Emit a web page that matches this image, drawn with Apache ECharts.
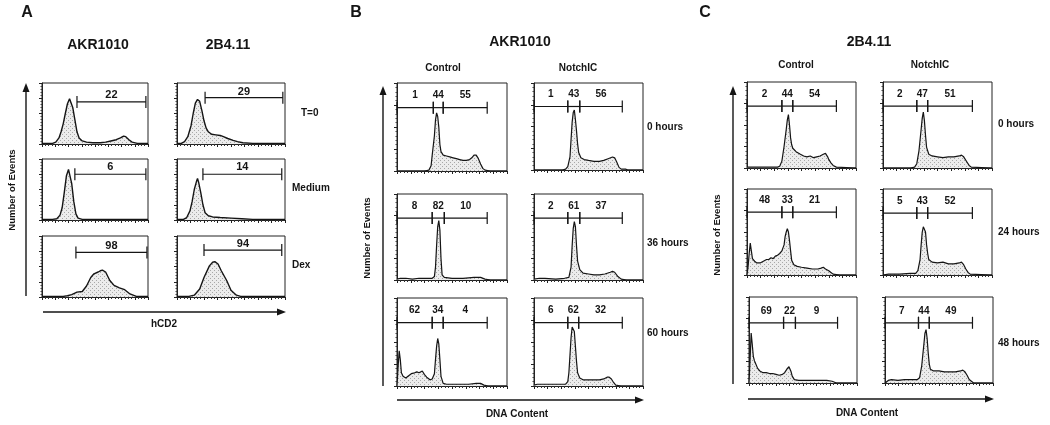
<!DOCTYPE html>
<html>
<head>
<meta charset="utf-8">
<script src="https://cdn.jsdelivr.net/npm/echarts@6/dist/echarts.min.js"></script>
<style>
html, body { margin: 0; padding: 0; background: #fff; }
#chart { width: 1050px; height: 425px; }
</style>
</head>
<body>
<div id="chart"></div>
<script>
// histograms: [channel (% of axis), events (% of max)]
// A - hCD2
const akrT0 = [[0,1],[5,1],[10,1],[13,3],[16,10],[18,20],[20,33],[22,50],[24,66],[26,74],[27,72],[29,60],[31,40],[33,20],[35,10],[38,5],[42,3],[48,2],[55,2],[60,3],[65,5],[70,7],[74,10],[77,13],[79,12],[82,7],[85,3],[90,1],[100,1]];
const b4T0 = [[0,1],[4,1],[7,4],[10,12],[13,30],[15,50],[17,67],[19,73],[21,70],[23,55],[25,38],[27,26],[29,20],[32,16],[36,15],[40,14],[43,12],[47,9],[52,6],[56,4],[61,2],[70,1],[100,1]];
const akrMedium = [[0,1],[10,1],[14,2],[17,8],[19,20],[21,45],[23,72],[25,83],[26,80],[28,60],[30,30],[32,10],[34,3],[38,1],[100,1]];
const b4Medium = [[0,1],[6,1],[9,4],[12,15],[14,30],[16,50],[18,63],[19,68],[20,62],[22,45],[24,25],[26,12],[29,7],[33,5],[40,4],[50,3],[60,2],[70,1],[100,1]];
const akrDex = [[0,1],[20,1],[24,2],[28,4],[33,8],[38,9],[42,18],[46,32],[49,38],[53,41],[55,43],[57,44],[60,41],[64,27],[68,19],[73,15],[78,12],[83,5],[89,1],[100,1]];
const b4Dex = [[0,1],[11,1],[16,3],[21,13],[25,32],[30,51],[33,57],[35,58],[38,54],[41,43],[46,27],[50,11],[55,3],[59,1],[100,1]];
// B - AKR1010 DNA content
const bCtl0 = [[0,0],[25,0],[29,1],[31,6],[32,18],[34,40],[35,58],[36,66],[37,62],[38,50],[39,30],[40,22],[42,18],[45,17],[48,16],[51,15],[54,14],[57,13],[60,12],[63,12],[66,13],[68,15],[70,18],[71,19],[72,18],[74,14],[76,8],[78,3],[80,1],[85,0],[100,0]];
const bNotch0 = [[0,0],[26,0],[29,1],[31,4],[33,15],[34,35],[35,55],[36,66],[37,69],[38,58],[39,45],[40,30],[41,20],[43,14],[46,12],[50,11],[55,10],[60,10],[64,11],[68,13],[72,15],[74,14],[76,9],[78,3],[80,1],[84,1],[86,0],[100,0]];
const bCtl36 = [[0,1],[3,2],[8,2],[14,1],[20,2],[27,2],[32,2],[34,4],[35,15],[36,40],[37,62],[38,69],[39,58],[40,25],[41,6],[43,3],[50,2],[60,2],[70,3],[76,3],[80,1],[85,0],[100,0]];
const bNotch36 = [[0,1],[5,2],[10,2],[20,1],[28,2],[32,3],[34,15],[35,40],[36,60],[37,68],[38,62],[39,40],[40,22],[42,12],[45,8],[50,7],[55,6],[60,6],[65,7],[70,9],[72,10],[74,9],[77,4],[80,1],[85,0],[100,0]];
const bCtl60 = [[0,0],[1,22],[2,40],[3,30],[4,15],[5.5,11],[8,9],[10,11],[13,14],[16,15],[18,16],[20,15],[21,14],[23,17],[25,13],[27,10],[30,7],[32,8],[34,14],[35,30],[36,45],[37,54],[38,48],[39,30],[40,11],[42,3],[45,2],[55,2],[65,2],[72,3],[76,3],[79,1],[83,0],[100,0]];
const bNotch60 = [[0,1],[3,2],[10,2],[18,2],[25,2],[29,2],[31,5],[32,15],[33,35],[34,55],[35,67],[36,69],[37,62],[38,45],[39,28],[40,15],[42,9],[45,7],[50,7],[55,7],[60,7],[64,8],[67,10],[69,10],[71,8],[73,4],[75,1],[80,0],[100,0]];
// C - 2B4.11 DNA content
const cCtl0 = [[0,1],[10,1],[20,1],[28,1],[30,2],[32,8],[34,25],[36,45],[37,56],[38,62],[39,50],[40,35],[41,27],[42,23],[45,19],[49,16],[52,14],[55,13],[58,14],[61,12],[64,13],[67,14],[70,16],[72,17],[74,13],[75,10],[77,6],[79,3],[82,1],[100,0]];
const cNotch0 = [[0,0],[25,0],[29,1],[31,5],[33,20],[35,45],[36,58],[37,65],[38,55],[39,38],[40,24],[42,16],[45,14],[50,13],[55,12],[60,13],[65,13],[70,14],[72,15],[74,13],[77,7],[79,3],[81,1],[100,0]];
const cCtl24 = [[0,0],[1,10],[2,25],[3,37],[4,28],[5,19],[7,16],[9,14],[12,14],[15,16],[18,18],[20,18],[22,20],[24,19],[26,22],[28,23],[30,25],[32,28],[34,35],[35,45],[36,50],[37,54],[38,50],[39,40],[40,28],[41,17],[43,12],[46,10],[50,9],[55,8],[60,7],[65,7],[68,8],[70,9],[72,7],[75,5],[77,3],[79,1],[85,0],[100,0]];
const cNotch24 = [[0,0],[5,1],[15,1],[25,2],[30,2],[32,5],[34,18],[35,35],[36,50],[37,56],[38,58],[39,50],[40,35],[41,25],[42,18],[45,15],[50,14],[55,15],[60,13],[65,13],[70,14],[72,15],[74,12],[76,7],[78,3],[80,1],[100,0]];
const cCtl48 = [[0,0],[1,27],[2,58],[3,45],[4,31],[5,26],[6,23],[8,17],[10,14],[13,12],[16,12],[19,11],[22,11],[25,10],[28,9],[31,10],[33,12],[35,16],[36,18],[37,19],[38,17],[39,13],[40,8],[42,4],[46,3],[55,3],[65,3],[72,3],[77,2],[81,0],[100,0]];
const cNotch48 = [[0,0],[3,3],[6,4],[12,3],[18,4],[24,4],[30,4],[32,6],[34,20],[36,45],[37,58],[38,62],[39,52],[40,35],[41,22],[42,16],[45,14],[50,14],[55,13],[60,13],[65,13],[70,14],[72,15],[74,13],[76,9],[78,4],[80,2],[82,0],[100,0]];

// gates: [start, end, level, percent]
const gAkrT0 = [[33,98,69,22]];
const gB4T0 = [[26,98,76,29]];
const gAkrMedium = [[31,98,75,6]];
const gB4Medium = [[24,97,75,14]];
const gAkrDex = [[32,99,73,98]];
const gB4Dex = [[25,97,77,94]];
const gBCtl0 = [[0,33,72,1],[33,42,72,44],[42,82,72,55]];
const gBNotch0 = [[0,31,73,1],[31,42,73,43],[42,81,73,56]];
const gBCtl36 = [[0,32,72,8],[32,43,72,82],[43,82,72,10]];
const gBNotch36 = [[0,31,72,2],[31,42,72,61],[42,81,72,37]];
const gBCtl60 = [[0,32,72,62],[32,42,72,34],[42,82,72,4]];
const gBNotch60 = [[0,31,72,6],[31,41,72,62],[41,81,72,32]];
const gCCtl0 = [[0,32,72,2],[32,42,72,44],[42,82,72,54]];
const gCNotch0 = [[0,31,72,2],[31,41,72,47],[41,82,72,51]];
const gCCtl24 = [[0,32,73,48],[32,42,73,33],[42,82,73,21]];
const gCNotch24 = [[0,31,72,5],[31,41,72,43],[41,82,72,52]];
const gCCtl48 = [[0,32,70,69],[32,43,70,22],[43,82,70,9]];
const gCNotch48 = [[0,31,70,7],[31,41,70,44],[41,81,70,49]];

const rowsA = ['T=0', 'Medium', 'Dex'];
const rowsB = ['0 hours', '36 hours', '60 hours'];
const rowsC = ['0 hours', '24 hours', '48 hours'];

const FONT = '"Liberation Sans", Arial, sans-serif';
const INK = '#151515';

// stippled fill like the printed histograms
const dots = document.createElement('canvas');
dots.width = 4; dots.height = 4;
(function () {
    const c = dots.getContext('2d');
    c.fillStyle = '#ececec';
    c.fillRect(0, 0, 4, 4);
    c.fillStyle = '#a8a8a8';
    c.fillRect(0, 0, 1, 1);
    c.fillRect(2, 2, 1, 1);
})();

// panel boxes in pixels
const panels = [
    // A
    { hist: akrT0, gates: gAkrT0, box: [42, 83, 106, 61], lift: 7, fs: 11, lw: 1.4 },
    { hist: b4T0, gates: gB4T0, box: [177, 83, 108, 61], lift: 6, fs: 11, lw: 1.4 },
    { hist: akrMedium, gates: gAkrMedium, box: [42, 159, 106, 61], lift: 7, fs: 11, lw: 1.4 },
    { hist: b4Medium, gates: gB4Medium, box: [177, 159, 108, 61], lift: 7, fs: 11, lw: 1.4 },
    { hist: akrDex, gates: gAkrDex, box: [42, 236, 106, 61], lift: 7, fs: 11, lw: 1.4 },
    { hist: b4Dex, gates: gB4Dex, box: [177, 236, 108, 61], lift: 6, fs: 11, lw: 1.4 },
    // B
    { hist: bCtl0, gates: gBCtl0, box: [397, 83, 110, 88], lift: 12, fs: 10, lw: 1.2 },
    { hist: bNotch0, gates: gBNotch0, box: [534, 83, 109, 87], lift: 12, fs: 10, lw: 1.2 },
    { hist: bCtl36, gates: gBCtl36, box: [397, 194, 110, 86], lift: 12, fs: 10, lw: 1.2 },
    { hist: bNotch36, gates: gBNotch36, box: [534, 194, 109, 86], lift: 12, fs: 10, lw: 1.2 },
    { hist: bCtl60, gates: gBCtl60, box: [397, 298, 110, 88], lift: 12, fs: 10, lw: 1.2 },
    { hist: bNotch60, gates: gBNotch60, box: [534, 298, 109, 88], lift: 12, fs: 10, lw: 1.2 },
    // C
    { hist: cCtl0, gates: gCCtl0, box: [747, 82, 109, 86], lift: 12, fs: 10, lw: 1.2 },
    { hist: cNotch0, gates: gCNotch0, box: [883, 82, 109, 86], lift: 12, fs: 10, lw: 1.2 },
    { hist: cCtl24, gates: gCCtl24, box: [747, 189, 109, 86], lift: 12, fs: 10, lw: 1.2 },
    { hist: cNotch24, gates: gCNotch24, box: [883, 189, 109, 86], lift: 12, fs: 10, lw: 1.2 },
    { hist: cCtl48, gates: gCCtl48, box: [749, 297, 108, 86], lift: 12, fs: 10, lw: 1.2 },
    { hist: cNotch48, gates: gCNotch48, box: [885, 297, 108, 86], lift: 12, fs: 10, lw: 1.2 }
];

function gateRenderer(lift, fs) {
    return function (params, api) {
        const y = api.value(2);
        const p0 = api.coord([api.value(0), y]);
        const p1 = api.coord([api.value(1), y]);
        const st = { stroke: INK, lineWidth: 1.2 };
        const h = 6;
        return {
            type: 'group',
            children: [
                { type: 'line', shape: { x1: p0[0], y1: p0[1], x2: p1[0], y2: p1[1] }, style: st },
                { type: 'line', shape: { x1: p0[0], y1: p0[1] - h, x2: p0[0], y2: p0[1] + h }, style: st },
                { type: 'line', shape: { x1: p1[0], y1: p1[1] - h, x2: p1[0], y2: p1[1] + h }, style: st },
                {
                    type: 'text',
                    style: {
                        text: String(api.value(3)),
                        x: (p0[0] + p1[0]) / 2, y: p0[1] - lift,
                        align: 'center', verticalAlign: 'middle',
                        textAlign: 'center', textVerticalAlign: 'middle',
                        font: 'bold ' + fs + 'px ' + FONT, fill: INK
                    }
                }
            ]
        };
    };
}

const grid = [], xAxis = [], yAxis = [], series = [];
panels.forEach(function (p, i) {
    grid.push({
        left: p.box[0], top: p.box[1], width: p.box[2], height: p.box[3],
        show: true, borderColor: '#222', borderWidth: 1, backgroundColor: 'transparent'
    });
    xAxis.push({
        gridIndex: i, type: 'value', min: 0, max: 100, interval: 12.5,
        axisLine: { lineStyle: { color: '#222', width: 1 } },
        axisTick: { length: 3, lineStyle: { color: '#222' } },
        minorTick: { show: true, splitNumber: 4, length: 2, lineStyle: { color: '#333' } },
        axisLabel: { show: false }, splitLine: { show: false }
    });
    yAxis.push({
        gridIndex: i, type: 'value', min: 0, max: 100, interval: 25,
        axisLine: { lineStyle: { color: '#222', width: 1 } },
        axisTick: { length: 3, lineStyle: { color: '#222' } },
        minorTick: { show: true, splitNumber: 5, length: 1.5, lineStyle: { color: '#444' } },
        axisLabel: { show: false }, splitLine: { show: false }
    });
    series.push({
        type: 'line', xAxisIndex: i, yAxisIndex: i, data: p.hist,
        symbol: 'none', silent: true, animation: false,
        lineStyle: { color: INK, width: p.lw },
        areaStyle: { color: { image: dots, repeat: 'repeat' }, opacity: 1 }
    });
    series.push({
        type: 'custom', xAxisIndex: i, yAxisIndex: i, data: p.gates,
        encode: { x: [0, 1], y: 2 }, silent: true, animation: false,
        renderItem: gateRenderer(p.lift, p.fs)
    });
});

function txt(s, x, y, size, opts) {
    opts = opts || {};
    return {
        type: 'text', x: x, y: y, rotation: opts.rot || 0, silent: true,
        style: {
            text: s, font: 'bold ' + size + 'px ' + FONT, fill: INK,
            align: opts.align || 'center', verticalAlign: 'middle',
            textAlign: opts.align || 'center', textVerticalAlign: 'middle'
        }
    };
}
function hArrow(x0, x1, y) {
    return [
        { type: 'line', silent: true, shape: { x1: x0, y1: y, x2: x1 - 6, y2: y }, style: { stroke: INK, lineWidth: 1.6 } },
        { type: 'polygon', silent: true, shape: { points: [[x1 - 9, y - 3.5], [x1, y], [x1 - 9, y + 3.5]] }, style: { fill: INK } }
    ];
}
function vArrow(x, y0, y1) {
    return [
        { type: 'line', silent: true, shape: { x1: x, y1: y0, x2: x, y2: y1 + 6 }, style: { stroke: INK, lineWidth: 1.4 } },
        { type: 'polygon', silent: true, shape: { points: [[x - 3.5, y1 + 9], [x, y1], [x + 3.5, y1 + 9]] }, style: { fill: INK } }
    ];
}

const graphic = [
    txt('A', 27, 13, 16),
    txt('B', 356, 13, 16),
    txt('C', 705, 13, 16),
    txt('AKR1010', 98, 45, 14),
    txt('2B4.11', 228, 45, 14),
    txt('AKR1010', 520, 42, 14),
    txt('2B4.11', 869, 42, 14),
    txt('Control', 443, 68, 10),
    txt('NotchIC', 578, 68, 10),
    txt('Control', 796, 65, 10),
    txt('NotchIC', 930, 65, 10),
    txt('Number of Events', 12, 190, 9.5, { rot: Math.PI / 2 }),
    txt('Number of Events', 367, 238, 9.5, { rot: Math.PI / 2 }),
    txt('Number of Events', 717, 235, 9.5, { rot: Math.PI / 2 }),
    txt('hCD2', 164, 324, 10),
    txt('DNA Content', 517, 414, 10),
    txt('DNA Content', 867, 413, 10),
    txt(rowsA[0], 301, 113, 10, { align: 'left' }),
    txt(rowsA[1], 292, 188, 10, { align: 'left' }),
    txt(rowsA[2], 292, 265, 10, { align: 'left' }),
    txt(rowsB[0], 647, 127, 10, { align: 'left' }),
    txt(rowsB[1], 647, 243, 10, { align: 'left' }),
    txt(rowsB[2], 647, 333, 10, { align: 'left' }),
    txt(rowsC[0], 998, 124, 10, { align: 'left' }),
    txt(rowsC[1], 998, 232, 10, { align: 'left' }),
    txt(rowsC[2], 998, 343, 10, { align: 'left' })
].concat(
    vArrow(26, 296, 83), hArrow(43, 286, 312),
    vArrow(383, 386, 86), hArrow(397, 644, 400),
    vArrow(733, 384, 86), hArrow(748, 994, 399)
);

const chart = echarts.init(document.getElementById('chart'), null, { renderer: 'canvas' });
chart.setOption({
    backgroundColor: '#fff',
    animation: false,
    grid: grid,
    xAxis: xAxis,
    yAxis: yAxis,
    series: series,
    graphic: graphic
});
</script>
</body>
</html>
